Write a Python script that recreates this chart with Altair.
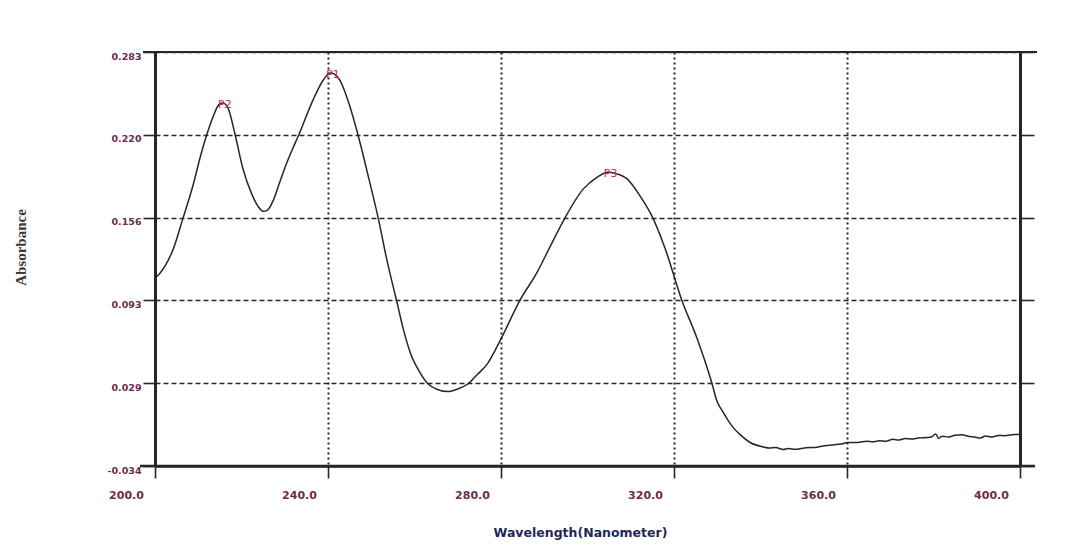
import altair as alt
import pandas as pd

# UV absorbance scan, 200-400 nm
wavelength = [
    200.0, 201.0, 202.3, 204.2, 206.5, 208.8, 210.5, 212.0, 213.5, 214.6,
    215.5, 216.3, 216.9, 218.5, 220.3, 222.4, 223.8, 225.0, 226.0, 227.3,
    228.5, 230.1, 231.7, 233.3, 236.5, 238.8, 240.5, 241.5, 242.8, 244.6,
    246.9, 249.3, 251.6, 253.6, 255.9, 257.4, 259.0, 261.0, 263.1, 265.0,
    267.7, 270.0, 272.4, 274.5, 276.8, 279.8, 284.4, 288.3, 291.5, 294.8,
    299.0, 302.2, 304.7, 306.5, 309.1, 312.1, 315.1, 317.9, 321.8, 325.3,
    328.8, 329.9, 331.2, 332.5, 333.8, 335.3, 337.6, 340.6, 342.0, 343.5,
    345.2, 346.5, 348.0, 349.8, 351.5, 353.0, 354.5, 356.0, 357.5, 359.0,
    360.0, 362.0, 364.6, 366.0, 367.5, 369.0, 370.6, 372.0, 373.5, 375.0,
    376.5, 378.5, 379.5, 380.5, 381.2, 382.0, 383.5, 385.0, 386.5, 388.0,
    389.5, 390.8, 392.0, 393.5, 395.0, 396.5, 398.0, 399.3, 400.0,
]
absorbance = [
    0.110, 0.113, 0.119, 0.132, 0.156, 0.181, 0.203, 0.220, 0.234, 0.242,
    0.244, 0.243, 0.240, 0.220, 0.194, 0.174, 0.165, 0.161, 0.162, 0.169,
    0.180, 0.195, 0.208, 0.220, 0.246, 0.261, 0.267, 0.266, 0.261, 0.246,
    0.220, 0.188, 0.156, 0.124, 0.092, 0.071, 0.053, 0.039, 0.029, 0.025,
    0.023, 0.025, 0.029, 0.036, 0.044, 0.062, 0.093, 0.114, 0.135, 0.156,
    0.178, 0.187, 0.191, 0.190, 0.186, 0.173, 0.156, 0.133, 0.093, 0.064,
    0.029, 0.016, 0.008, 0.001, -0.005, -0.010, -0.016, -0.0194, -0.0203, -0.0198,
    -0.0214, -0.0206, -0.0212, -0.0204, -0.0199, -0.0196, -0.0187, -0.0182, -0.0176, -0.0170,
    -0.0161, -0.0160, -0.0151, -0.0155, -0.0146, -0.0150, -0.0136, -0.0141, -0.0130, -0.0134,
    -0.0126, -0.0122, -0.0118, -0.0095, -0.0128, -0.0112, -0.0118, -0.0104, -0.0100, -0.0112,
    -0.0118, -0.0126, -0.0110, -0.0118, -0.0106, -0.0108, -0.0101, -0.0099, -0.0098,
]

peak_names = ["P2", "P1", "P3"]
peak_wavelength = [215.5, 240.5, 304.7]
peak_absorbance = [0.244, 0.267, 0.191]

x_ticks = [200.0, 240.0, 280.0, 320.0, 360.0, 400.0]
y_ticks = [-0.034, 0.0294, 0.0928, 0.1562, 0.2196, 0.283]

spectrum = pd.DataFrame({"wl": wavelength, "abs": absorbance})
peaks = pd.DataFrame({"name": peak_names, "wl": peak_wavelength, "abs": peak_absorbance})
anchor = pd.DataFrame({"k": [0]})

W, H = 865, 414
ink = "#262626"
label_color = "#6b2c4e"

x_scale = alt.Scale(domain=[200, 400], nice=False, zero=False)
y_scale = alt.Scale(domain=[-0.034, 0.283], nice=False, zero=False)

x_axis = alt.Axis(
    values=x_ticks, format=".1f", title="Wavelength(Nanometer)",
    grid=True, gridDash=[2, 3], gridWidth=2, gridColor=ink, gridOpacity=1,
    domainColor=ink, domainWidth=2.6,
    tickColor=ink, tickSize=12, tickWidth=1.6,
    labelOffset=-29, labelPadding=11, labelFlush=False, labelOverlap=False,
    labelFont="DejaVu Sans", labelFontWeight="bold", labelFontSize=11,
    labelColor=label_color,
    titleFont="DejaVu Sans", titleFontWeight="bold", titleFontSize=12.5,
    titleColor="#1f2858", titleX=425, titleY=66,
    titleAlign="center", titleBaseline="middle",
)

y_axis_left = alt.Axis(
    values=y_ticks, title="Absorbance",
    labelExpr="replace(format(datum.value, '.3f'), '\u2212', '-')",
    grid=True, gridDash=[5, 3], gridWidth=1.3, gridColor=ink, gridOpacity=1,
    domainColor=ink, domainWidth=3,
    tickColor=ink, tickSize=12, tickWidth=1.6,
    labelOffset=4, labelPadding=2, labelFlush=False, labelOverlap=False,
    labelFont="DejaVu Sans", labelFontWeight="bold", labelFontSize=9.5,
    labelColor=label_color,
    titleFont="Liberation Serif", titleFontWeight="bold", titleFontSize=15,
    titleColor="#3a3a3a", titleAngle=270, titleX=-135, titleY=195,
    titleAlign="center", titleBaseline="middle",
)

y_axis_right = alt.Axis(
    orient="right", values=y_ticks, labels=False, title=None, grid=False,
    domainColor=ink, domainWidth=3,
    tickColor=ink, tickSize=14, tickWidth=1.6,
)

curve = alt.Chart(spectrum).mark_line(
    color=ink, strokeWidth=1.5, interpolate="monotone"
).encode(
    x=alt.X("wl:Q", scale=x_scale, axis=x_axis),
    y=alt.Y("abs:Q", scale=y_scale, axis=y_axis_left),
)

peak_labels = alt.Chart(peaks).mark_text(
    align="left", baseline="middle", dx=-4, dy=2,
    color="#cc2a3f", font="DejaVu Sans", fontSize=11,
).encode(
    x=alt.X("wl:Q", scale=x_scale, axis=x_axis),
    y=alt.Y("abs:Q", scale=y_scale, axis=y_axis_right),
    text="name:N",
)

# frame lines running slightly past the plot edges
top_line = alt.Chart(anchor).mark_rule(color=ink, strokeWidth=2).encode(
    x=alt.value(-12), x2=alt.value(882), y=alt.value(0)
)
bottom_line = alt.Chart(anchor).mark_rule(color=ink, strokeWidth=2.6).encode(
    x=alt.value(-15), x2=alt.value(880), y=alt.value(H)
)

chart = (
    alt.layer(curve, peak_labels, top_line, bottom_line)
    .resolve_axis(y="independent")
    .properties(
        width=W, height=H,
        padding={"left": 155, "top": 52, "right": 72, "bottom": 82},
        autosize=alt.AutoSizeParams(type="none"),
        background="white",
    )
    .configure_view(stroke=None)
)

chart.save("out.html", embed_options={"renderer": "svg", "actions": False})
